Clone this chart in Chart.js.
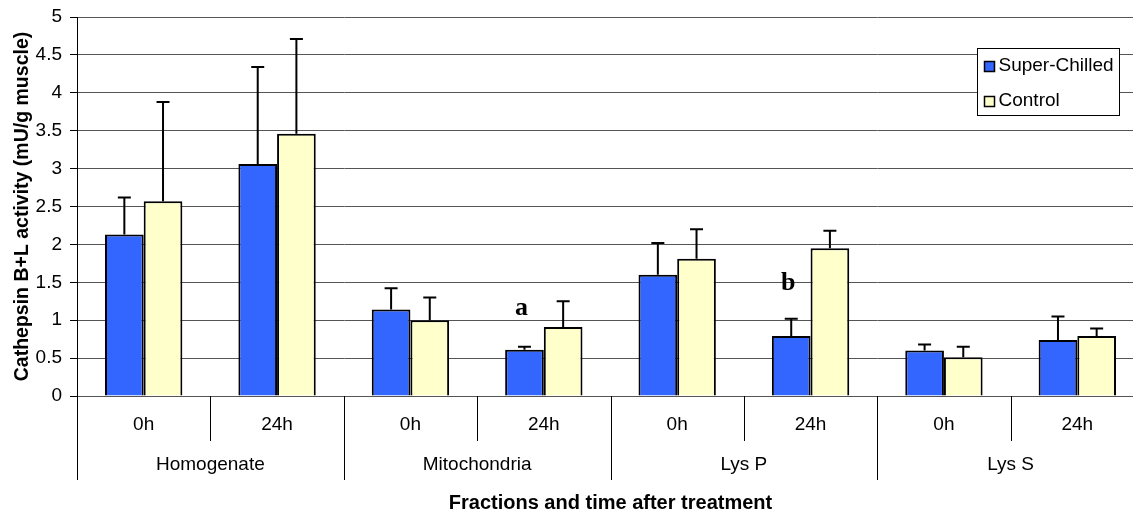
<!DOCTYPE html>
<html>
<head>
<meta charset="utf-8">
<script src="https://cdn.jsdelivr.net/npm/chart.js@4/dist/chart.umd.min.js"></script>
<style>
    body{margin:0;overflow:hidden;background:#fff;}
    #wrap{width:1150px;height:513px;position:relative;}
</style>
</head>
<body>
<div id="wrap"><canvas id="cathepsin_chart"></canvas></div>
<script>
// values
const times = ['0h','24h','0h','24h','0h','24h','0h','24h'];
const fractions = ['Homogenate','Mitochondria','Lys P','Lys S'];
const superChilled = [2.13, 3.06, 1.14, 0.61, 1.60, 0.79, 0.60, 0.74];
const superChilledErr = [0.49, 1.28, 0.28, 0.04, 0.42, 0.23, 0.08, 0.31];
const control = [2.57, 3.46, 1.00, 0.91, 1.81, 1.95, 0.51, 0.79];
const controlErr = [1.31, 1.25, 0.30, 0.34, 0.39, 0.23, 0.14, 0.10];
const yTicks = [0, 0.5, 1, 1.5, 2, 2.5, 3, 3.5, 4, 4.5, 5];
// significance letters: text, category index, y value
const marks = [['a', 3, 1.16], ['b', 5, 1.49]];

const FONT = '"Liberation Sans", Arial, sans-serif';

const extras = {
    id: 'extras',
    afterDatasetsDraw(chart){
        const ctx = chart.ctx, y = chart.scales.y;
        const errs = [superChilledErr, controlErr];
        ctx.save();
        ctx.strokeStyle = '#000';
        ctx.lineWidth = 2;
        chart.data.datasets.forEach((ds, d)=>{
            chart.getDatasetMeta(d).data.forEach((bar, i)=>{
                const top = y.getPixelForValue(ds.data[i] + errs[d][i]);
                const base = y.getPixelForValue(ds.data[i]);
                ctx.beginPath();
                ctx.moveTo(bar.x, base);
                ctx.lineTo(bar.x, top);
                ctx.moveTo(bar.x - 6.5, top);
                ctx.lineTo(bar.x + 6.5, top);
                ctx.stroke();
            });
        });
        // letters over the super-chilled bars
        ctx.fillStyle = '#000';
        ctx.font = 'bold 26px "Liberation Serif", "Times New Roman", serif';
        ctx.textAlign = 'center';
        ctx.textBaseline = 'middle';
        const meta0 = chart.getDatasetMeta(0);
        for(const m of marks){
            ctx.fillText(m[0], meta0.data[m[1]].x - 3, y.getPixelForValue(m[2]));
        }
        ctx.restore();
    },
    afterDraw(chart){
        const ctx = chart.ctx, x = chart.scales.x, area = chart.chartArea;
        const bottom = area.bottom;
        ctx.save();
        ctx.strokeStyle = '#000';
        ctx.lineWidth = 1;
        ctx.beginPath();
        ctx.moveTo(area.left + 0.5, bottom);
        ctx.lineTo(area.left + 0.5, bottom + 84);
        for(let i=0;i<times.length-1;i++){
            const bx = Math.round((x.getPixelForValue(i) + x.getPixelForValue(i+1))/2) + 0.5;
            ctx.moveTo(bx, bottom);
            ctx.lineTo(bx, bottom + (i%2===0 ? 45 : 84));
        }
        ctx.stroke();
        // group labels
        ctx.fillStyle = '#000';
        ctx.font = '19px ' + FONT;
        ctx.textAlign = 'center';
        ctx.textBaseline = 'middle';
        fractions.forEach((f, g)=>{
            const cx = (x.getPixelForValue(2*g) + x.getPixelForValue(2*g+1))/2;
            ctx.fillText(f, cx, bottom + 69);
        });
        // legend
        const lx = 977.5, ly = 48.5, lw = 142, lh = 67;
        ctx.fillStyle = '#fff';
        ctx.fillRect(lx, ly, lw, lh);
        ctx.strokeRect(lx, ly, lw, lh);
        ctx.textAlign = 'left';
        chart.data.datasets.forEach((ds, d)=>{
            const sy = ly + 13 + d*35;
            ctx.fillStyle = ds.backgroundColor;
            ctx.fillRect(lx + 7, sy, 10, 10);
            ctx.lineWidth = 1.5;
            ctx.strokeRect(lx + 7, sy, 10, 10);
            ctx.fillStyle = '#000';
            ctx.fillText(ds.label, lx + 21, sy + 4);
        });
        ctx.restore();
    }
};

new Chart(document.getElementById('cathepsin_chart'), {
    type: 'bar',
    data: {
        labels: times,
        datasets: [{
            label: 'Super-Chilled',
            data: superChilled,
            backgroundColor: '#3366FF',
            borderColor: '#000',
            borderWidth: 2
        }, {
            label: 'Control',
            data: control,
            backgroundColor: '#FFFFCC',
            borderColor: '#000',
            borderWidth: 2
        }]
    },
    options: {
        responsive: true,
        maintainAspectRatio: false,
        animation: false,
        layout: {padding: {top: 17, right: 6, left: 0, bottom: 0}},
        datasets: {bar: {categoryPercentage: 0.58, barPercentage: 1}},
        plugins: {
            legend: {display: false},
            tooltip: {enabled: false}
        },
        scales: {
            x: {
                grid: {display: false},
                border: {display: false},
                ticks: {color: '#000', font: {family: FONT, size: 19}, padding: 9, maxRotation: 0},
                title: {
                    display: true,
                    text: 'Fractions and time after treatment',
                    color: '#000',
                    font: {family: FONT, size: 20, weight: 'bold'},
                    padding: {top: 0, bottom: -2}
                },
                afterFit(scale){ scale.height = 117; }
            },
            y: {
                min: 0,
                max: 5,
                afterBuildTicks(scale){ scale.ticks = yTicks.map(v=>({value: v})); },
                grid: {color: '#555', tickLength: 7, tickColor: '#000'},
                border: {color: '#000'},
                ticks: {
                    color: '#000',
                    font: {family: FONT, size: 19, lineHeight: 1},
                    padding: 8,
                    callback: v => String(v)
                },
                title: {
                    display: true,
                    text: 'Cathepsin B+L activity (mU/g muscle)',
                    color: '#000',
                    font: {family: FONT, size: 19.5, weight: 'bold'},
                    padding: {top: 11, bottom: 0}
                },
                afterFit(scale){
                    scale.width = 77;
                    scale.paddingTop = 0;
                    scale.paddingBottom = 0;
                }
            }
        }
    },
    plugins: [extras]
});
</script>
</body>
</html>
